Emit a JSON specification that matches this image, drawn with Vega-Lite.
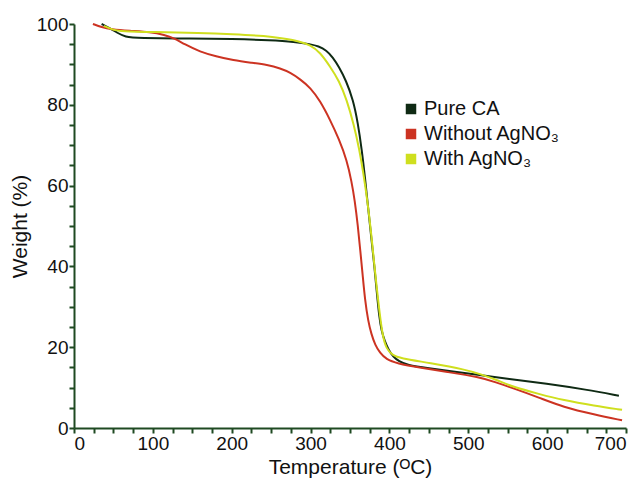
{
  "$schema": "https://vega.github.io/schema/vega-lite/v6.json",
  "autosize": {"type": "none"},
  "width": 552,
  "height": 404,
  "padding": {"left": 74, "top": 24, "right": 18, "bottom": 55},
  "background": "white",
  "config": {
    "view": {"stroke": null},
    "font": "Liberation Sans",
    "axis": {
      "domainColor": "#1f4a22",
      "domainWidth": 2,
      "ticks": true,
      "tickColor": "#1f4a22",
      "tickWidth": 2,
      "tickSize": 5,
      "grid": false,
      "labelColor": "#111111",
      "labelFontSize": 19,
      "titleFontSize": 21,
      "titleFontWeight": "normal",
      "titleColor": "#111111",
      "labelFont": "Liberation Sans",
      "titleFont": "Liberation Sans"
    }
  },
  "data": {"values": [
    {"T": 35, "W": 100, "s": "Pure CA"},
    {"T": 45, "W": 99, "s": "Pure CA"},
    {"T": 55, "W": 97.8, "s": "Pure CA"},
    {"T": 65, "W": 96.8, "s": "Pure CA"},
    {"T": 80, "W": 96.5, "s": "Pure CA"},
    {"T": 150, "W": 96.4, "s": "Pure CA"},
    {"T": 200, "W": 96.3, "s": "Pure CA"},
    {"T": 250, "W": 96, "s": "Pure CA"},
    {"T": 280, "W": 95.6, "s": "Pure CA"},
    {"T": 300, "W": 95, "s": "Pure CA"},
    {"T": 310, "W": 94.5, "s": "Pure CA"},
    {"T": 320, "W": 93.5, "s": "Pure CA"},
    {"T": 328, "W": 91.8, "s": "Pure CA"},
    {"T": 336, "W": 89.4, "s": "Pure CA"},
    {"T": 345, "W": 86, "s": "Pure CA"},
    {"T": 354, "W": 81.2, "s": "Pure CA"},
    {"T": 360, "W": 75.5, "s": "Pure CA"},
    {"T": 365, "W": 68.8, "s": "Pure CA"},
    {"T": 369, "W": 62, "s": "Pure CA"},
    {"T": 373, "W": 54.6, "s": "Pure CA"},
    {"T": 377, "W": 47, "s": "Pure CA"},
    {"T": 381, "W": 40, "s": "Pure CA"},
    {"T": 384, "W": 33.5, "s": "Pure CA"},
    {"T": 387, "W": 27.6, "s": "Pure CA"},
    {"T": 390, "W": 24, "s": "Pure CA"},
    {"T": 394, "W": 21.5, "s": "Pure CA"},
    {"T": 399, "W": 19.3, "s": "Pure CA"},
    {"T": 405, "W": 17.6, "s": "Pure CA"},
    {"T": 412, "W": 16.5, "s": "Pure CA"},
    {"T": 422, "W": 15.6, "s": "Pure CA"},
    {"T": 450, "W": 14.8, "s": "Pure CA"},
    {"T": 480, "W": 14, "s": "Pure CA"},
    {"T": 514, "W": 13.1, "s": "Pure CA"},
    {"T": 550, "W": 12.2, "s": "Pure CA"},
    {"T": 599, "W": 11, "s": "Pure CA"},
    {"T": 650, "W": 9.5, "s": "Pure CA"},
    {"T": 691, "W": 8, "s": "Pure CA"},

    {"T": 24, "W": 100, "s": "Without AgNO₃"},
    {"T": 35, "W": 99.2, "s": "Without AgNO₃"},
    {"T": 47, "W": 98.7, "s": "Without AgNO₃"},
    {"T": 70, "W": 98.3, "s": "Without AgNO₃"},
    {"T": 97, "W": 98, "s": "Without AgNO₃"},
    {"T": 115, "W": 97.3, "s": "Without AgNO₃"},
    {"T": 127, "W": 96.5, "s": "Without AgNO₃"},
    {"T": 140, "W": 95, "s": "Without AgNO₃"},
    {"T": 160, "W": 93.1, "s": "Without AgNO₃"},
    {"T": 180, "W": 92, "s": "Without AgNO₃"},
    {"T": 202, "W": 91, "s": "Without AgNO₃"},
    {"T": 225, "W": 90.4, "s": "Without AgNO₃"},
    {"T": 245, "W": 89.9, "s": "Without AgNO₃"},
    {"T": 262, "W": 89, "s": "Without AgNO₃"},
    {"T": 274, "W": 88, "s": "Without AgNO₃"},
    {"T": 287, "W": 86.3, "s": "Without AgNO₃"},
    {"T": 300, "W": 84.2, "s": "Without AgNO₃"},
    {"T": 312, "W": 81, "s": "Without AgNO₃"},
    {"T": 325, "W": 76.2, "s": "Without AgNO₃"},
    {"T": 336, "W": 71.5, "s": "Without AgNO₃"},
    {"T": 346, "W": 66.3, "s": "Without AgNO₃"},
    {"T": 352, "W": 61, "s": "Without AgNO₃"},
    {"T": 356, "W": 56.4, "s": "Without AgNO₃"},
    {"T": 360, "W": 50, "s": "Without AgNO₃"},
    {"T": 363, "W": 44, "s": "Without AgNO₃"},
    {"T": 366, "W": 38, "s": "Without AgNO₃"},
    {"T": 369, "W": 31.7, "s": "Without AgNO₃"},
    {"T": 373, "W": 26.5, "s": "Without AgNO₃"},
    {"T": 377, "W": 23.3, "s": "Without AgNO₃"},
    {"T": 382, "W": 20.5, "s": "Without AgNO₃"},
    {"T": 388, "W": 18.6, "s": "Without AgNO₃"},
    {"T": 396, "W": 17, "s": "Without AgNO₃"},
    {"T": 409, "W": 16, "s": "Without AgNO₃"},
    {"T": 440, "W": 14.9, "s": "Without AgNO₃"},
    {"T": 472, "W": 13.9, "s": "Without AgNO₃"},
    {"T": 514, "W": 12.6, "s": "Without AgNO₃"},
    {"T": 535, "W": 11.3, "s": "Without AgNO₃"},
    {"T": 556, "W": 9.9, "s": "Without AgNO₃"},
    {"T": 590, "W": 7.5, "s": "Without AgNO₃"},
    {"T": 620, "W": 5.2, "s": "Without AgNO₃"},
    {"T": 660, "W": 3.3, "s": "Without AgNO₃"},
    {"T": 695, "W": 1.9, "s": "Without AgNO₃"},

    {"T": 38, "W": 99.5, "s": "With AgNO₃"},
    {"T": 50, "W": 98.5, "s": "With AgNO₃"},
    {"T": 60, "W": 98.2, "s": "With AgNO₃"},
    {"T": 100, "W": 98, "s": "With AgNO₃"},
    {"T": 160, "W": 97.8, "s": "With AgNO₃"},
    {"T": 200, "W": 97.5, "s": "With AgNO₃"},
    {"T": 245, "W": 97, "s": "With AgNO₃"},
    {"T": 262, "W": 96.5, "s": "With AgNO₃"},
    {"T": 285, "W": 95.8, "s": "With AgNO₃"},
    {"T": 300, "W": 94.8, "s": "With AgNO₃"},
    {"T": 312, "W": 93, "s": "With AgNO₃"},
    {"T": 325, "W": 89.4, "s": "With AgNO₃"},
    {"T": 336, "W": 86, "s": "With AgNO₃"},
    {"T": 346, "W": 81.2, "s": "With AgNO₃"},
    {"T": 355, "W": 75, "s": "With AgNO₃"},
    {"T": 362, "W": 68.8, "s": "With AgNO₃"},
    {"T": 367, "W": 63, "s": "With AgNO₃"},
    {"T": 372, "W": 56.4, "s": "With AgNO₃"},
    {"T": 377, "W": 48, "s": "With AgNO₃"},
    {"T": 381, "W": 40, "s": "With AgNO₃"},
    {"T": 386, "W": 31, "s": "With AgNO₃"},
    {"T": 391, "W": 23, "s": "With AgNO₃"},
    {"T": 396, "W": 19.6, "s": "With AgNO₃"},
    {"T": 404, "W": 18, "s": "With AgNO₃"},
    {"T": 413, "W": 17.3, "s": "With AgNO₃"},
    {"T": 451, "W": 16.1, "s": "With AgNO₃"},
    {"T": 498, "W": 14.4, "s": "With AgNO₃"},
    {"T": 514, "W": 13.4, "s": "With AgNO₃"},
    {"T": 535, "W": 12, "s": "With AgNO₃"},
    {"T": 556, "W": 10.2, "s": "With AgNO₃"},
    {"T": 590, "W": 8.4, "s": "With AgNO₃"},
    {"T": 620, "W": 6.9, "s": "With AgNO₃"},
    {"T": 660, "W": 5.5, "s": "With AgNO₃"},
    {"T": 695, "W": 4.5, "s": "With AgNO₃"}
  ]},
  "mark": {"type": "line", "strokeWidth": 2, "interpolate": "basis"},
  "encoding": {
    "x": {
      "field": "T", "type": "quantitative",
      "scale": {"domain": [0, 700], "nice": false},
      "axis": {
        "title": "Temperature (ᴼC)",
        "values": [0,25,50,75,100,125,150,175,200,225,250,275,300,325,350,375,400,425,450,475,500,525,550,575,600,625,650,675,700],
        "labelExpr": "datum.value % 100 === 0 ? datum.label : ''",
        "labelPadding": 1,
        "titlePadding": 3
      }
    },
    "y": {
      "field": "W", "type": "quantitative",
      "scale": {"domain": [0, 100], "nice": false},
      "axis": {
        "title": "Weight (%)",
        "values": [0,5,10,15,20,25,30,35,40,45,50,55,60,65,70,75,80,85,90,95,100],
        "labelExpr": "datum.value % 20 === 0 ? datum.label : ''",
        "labelPadding": 1,
        "titlePadding": 6
      }
    },
    "color": {
      "field": "s", "type": "nominal",
      "scale": {"domain": ["Pure CA", "Without AgNO₃", "With AgNO₃"], "range": ["#0f2a14", "#cc3322", "#cfdf1e"]},
      "legend": {
        "title": null,
        "orient": "none",
        "legendX": 327,
        "legendY": 75,
        "symbolType": "square",
        "symbolSize": 110,
        "symbolStrokeWidth": 0,
        "labelFontSize": 20,
        "labelColor": "#111111",
        "labelFont": "Liberation Sans",
        "rowPadding": 5,
        "labelOffset": 3,
        "padding": 0,
        "encode": {"symbols": {"update": {"fill": {"scale": "color", "field": "value"}, "fillOpacity": {"value": 1}}}}
      }
    }
  }
}
